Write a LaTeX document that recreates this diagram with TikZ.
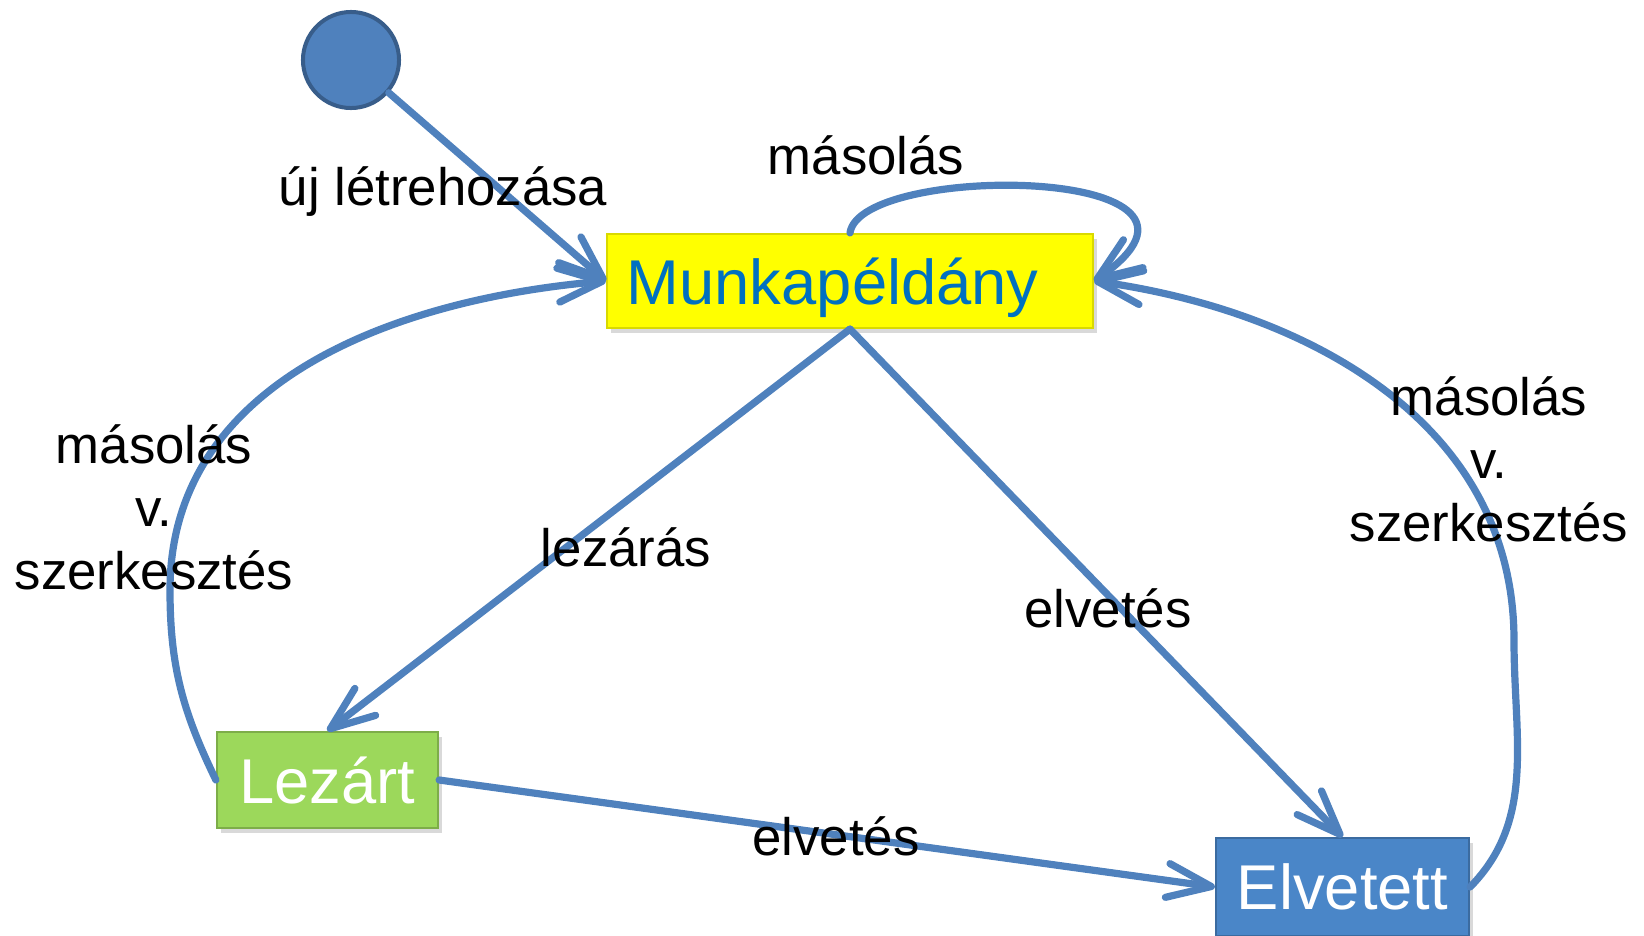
\documentclass[tikz,border=0pt]{standalone}
\usepackage{fontspec}
\setmainfont{Liberation Sans}
\usetikzlibrary{arrows.meta,shadows}
\definecolor{vonal}{HTML}{4F81BD}
\definecolor{korvonal}{HTML}{385D8A}
\definecolor{sarga}{HTML}{FFFF00}
\definecolor{zold}{HTML}{9CD85B}
\definecolor{kek}{HTML}{4A86C8}
\definecolor{betu}{HTML}{0070C0}
\tikzset{
>={Straight Barb[length=0.44cm,width=0.34cm,round]},
box/.style={rectangle, inner sep=0pt, line width=0.6pt, text depth=0pt,
  font=\fontsize{18pt}{21pt}\selectfont,
  drop shadow={shadow xshift=0.04cm, shadow yshift=-0.05cm, opacity=0.3}},
lbl/.style={align=center, inner sep=0pt, font=\fontsize{15pt}{17.9pt}\selectfont},
link/.style={->, draw=vonal, line width=0.072cm, line cap=round},
}

\begin{document}
\begin{tikzpicture}[x=0.01cm, y=-0.01cm]
        \useasboundingbox (0,0) rectangle (1644,936);

        \node[circle, fill=vonal, draw=korvonal, line width=0.04cm, minimum size=0.96cm, inner sep=0pt] (init) at (351,60) {};
        \node[box, fill=sarga, draw=sarga!85!black, text=betu, minimum height=0.94cm, text width=4.46cm, inner xsep=0.2cm, align=left] (munka) at (850,281) {Munkapéldány};
        \node[box, fill=zold, draw=zold!80!black, text=white, minimum width=2.21cm, minimum height=0.96cm] (lezart) at (327.5,780) {Lezárt};
        \node[box, fill=kek, draw=kek!80!black, text=white, minimum width=2.53cm, minimum height=0.98cm] (elvetett) at (1342.5,887) {Elvetett};

        \draw[link] (init) -- (munka.west);
        \draw[link] (munka.north) .. controls (860,162) and (1260,165) .. (munka.east);
        \draw[link] (lezart.west) .. controls (183,712) and (170,667) .. (170,590) .. controls (170,380) and (398,299) .. (munka.west);
        \draw[link] (munka.south) -- (lezart.north);
        \draw[link] (munka.south) -- (elvetett.north);
        \draw[link] (lezart.east) -- (elvetett.west);
        \draw[link] (elvetett.east) .. controls (1536,820) and (1514,738) .. (1514,640) .. controls (1514,423) and (1308,311) .. (munka.east);

        \node[lbl] (uj) at (443,192) {új létrehozása};
        \node[lbl] (masol) at (866,155) {másolás};
        \node[lbl] (masolbal) at (154,507) {másolás\\v.\\szerkesztés};
        \node[lbl] (lezaras) at (626,547) {lezárás};
        \node[lbl] (elvet) at (1108,608) {elvetés};
        \node[lbl] (elvetalul) at (836,836) {elvetés};
        \node[lbl] (masoljobb) at (1489,459) {másolás\\v.\\szerkesztés};
    \end{tikzpicture}
\end{document}
